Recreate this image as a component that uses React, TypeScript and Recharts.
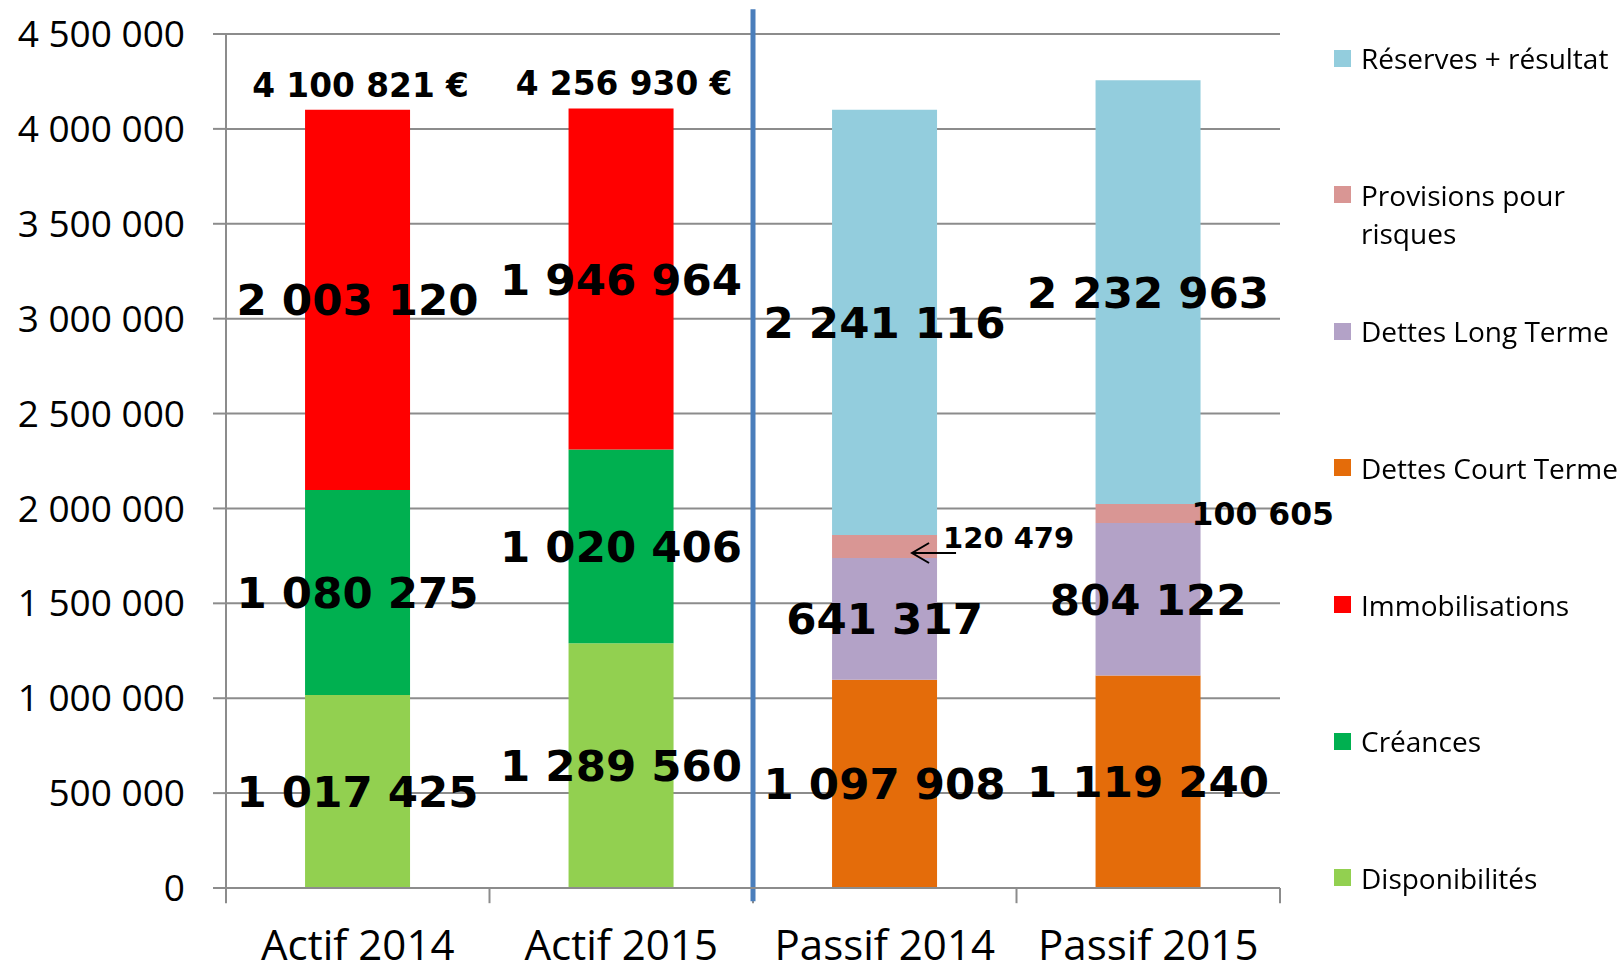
import React from 'react';
import { BarChart, Bar, XAxis, YAxis, CartesianGrid, ReferenceLine, LabelList, Legend } from 'recharts';

const categories = ['Actif 2014', 'Actif 2015', 'Passif 2014', 'Passif 2015'];
const disponibilites = [1017425, 1289560, 0, 0];
const creances = [1080275, 1020406, 0, 0];
const immobilisations = [2003120, 1798000, 0, 0];
const dettesCourtTerme = [0, 0, 1097908, 1119240];
const dettesLongTerme = [0, 0, 641317, 804122];
const provisions = [0, 0, 120479, 100605];
const reserves = [0, 0, 2241116, 2232963];

const immobilisationsLabels = ['2 003 120', '1 946 964', '', ''];
const totalLabels = ['4 100 821 €', '4 256 930 €', '', ''];
const yTicks = [0, 500000, 1000000, 1500000, 2000000, 2500000, 3000000, 3500000, 4000000, 4500000];

const fmt = (n: number) => String(n).replace(/\B(?=(\d{3})+(?!\d))/g, ' ');
const toLabels = (vals: number[]) => vals.map((v) => (v ? fmt(v) : ''));

const series = [
  { key: 'disponibilites', name: 'Disponibilités', color: '#92D050', values: disponibilites, labels: toLabels(disponibilites) },
  { key: 'creances', name: 'Créances', color: '#00B050', values: creances, labels: toLabels(creances) },
  { key: 'immobilisations', name: 'Immobilisations', color: '#FF0000', values: immobilisations, labels: immobilisationsLabels },
  { key: 'dettesCourtTerme', name: 'Dettes Court Terme', color: '#E46C0A', values: dettesCourtTerme, labels: toLabels(dettesCourtTerme) },
  { key: 'dettesLongTerme', name: 'Dettes Long Terme', color: '#B3A2C7', values: dettesLongTerme, labels: toLabels(dettesLongTerme) },
  { key: 'provisions', name: 'Provisions pour risques', color: '#D99694', values: provisions, labels: toLabels(provisions) },
  { key: 'reserves', name: 'Réserves + résultat', color: '#93CDDD', values: reserves, labels: toLabels(reserves) },
];

const data = categories.map((c, i) => {
  const row: Record<string, any> = { name: c };
  series.forEach((s) => {
    row[s.key] = s.values[i];
  });
  return row;
});

const GRAY = '#8C8C8C';
const bold = { fontFamily: '"DejaVu Sans", Verdana, sans-serif', fontWeight: 700, fill: '#000' } as const;

// find which category a label belongs to, from its value
const findIndex = (values: number[], value: any) => {
  const v = Array.isArray(value) ? Number(value[1]) - Number(value[0]) : Number(value);
  if (!v) return -1;
  let best = -1;
  let bestDiff = Infinity;
  values.forEach((x, i) => {
    if (!x) return;
    const d = Math.abs(x - v);
    if (d < bestDiff) {
      bestDiff = d;
      best = i;
    }
  });
  return bestDiff < 1 ? best : -1;
};

const bigLabel = (values: number[], texts: string[]) => (props: any) => {
  const { x, y, width, height, value } = props;
  const i = findIndex(values, value);
  const t = i >= 0 ? texts[i] : '';
  if (!t) return null;
  const cx = Number(x) + Number(width) / 2;
  const cy = Number(y) + Number(height) / 2;
  return (
    <text x={cx} y={cy} dy="0.36em" textAnchor="middle" style={{ ...bold, fontSize: 43.5 }}>
      {t}
    </text>
  );
};

const totalLabel = (props: any) => {
  const { x, y, width, height, value } = props;
  const i = findIndex(immobilisations, value);
  const t = i >= 0 ? totalLabels[i] : '';
  if (!t) return null;
  const cx = Number(x) + Number(width) / 2 + 3;
  const top = Math.min(Number(y), Number(y) + Number(height));
  return (
    <text x={cx} y={top - 25} dy="0.36em" textAnchor="middle" style={{ ...bold, fontSize: 32.8 }}>
      {t}
    </text>
  );
};

const provLabels = toLabels(provisions);
const provLabel = (props: any) => {
  const { x, y, width, height, value } = props;
  const i = findIndex(provisions, value);
  const t = i >= 0 ? provLabels[i] : '';
  if (!t) return null;
  const right = Number(x) + Number(width);
  const cy = Number(y) + Number(height) / 2;
  if (i === 2) {
    const ay = cy + 6.5;
    const tip = right - 25;
    return (
      <g>
        <text x={right + 6} y={cy - 8.5} dy="0.36em" textAnchor="start" style={{ ...bold, fontSize: 29 }}>
          {t}
        </text>
        <path
          d={`M${tip},${ay} L${right + 19},${ay} M${tip + 17},${ay - 10} L${tip},${ay} L${tip + 17},${ay + 10}`}
          stroke="#000"
          strokeWidth={2}
          fill="none"
        />
      </g>
    );
  }
  return (
    <text x={right - 9} y={cy} dy="0.36em" textAnchor="start" style={{ ...bold, fontSize: 31.5 }}>
      {t}
    </text>
  );
};

const legendOrder = [...series].reverse();

const renderLegend = () => (
  <div style={{ fontFamily: '"Open Sans", sans-serif', fontSize: 28, lineHeight: '38px', color: '#000' }}>
    {legendOrder.map((s) => (
      <div key={s.key} style={{ height: 136.67, display: 'flex', alignItems: 'flex-start' }}>
        <div style={{ width: 17, height: 17, marginTop: 10.5, background: s.color, flex: '0 0 auto' }} />
        <div style={{ marginLeft: 10, width: 262 }}>{s.name}</div>
      </div>
    ))}
  </div>
);

export default function App() {
  return (
    <div style={{ position: 'fixed', left: 0, top: 0, width: 1621, height: 971, background: '#fff' }}>
      <BarChart
        width={1621}
        height={971}
        data={data}
        margin={{ top: 34, right: 341, bottom: 0, left: 0 }}
        barCategoryGap="30%"
      >
        <CartesianGrid vertical={false} stroke={GRAY} strokeWidth={2} />
        <XAxis
          dataKey="name"
          height={83}
          axisLine={{ stroke: GRAY, strokeWidth: 2 }}
          tickLine={false}
          tickSize={0}
          tickMargin={42}
          tick={{ fontFamily: '"Open Sans", sans-serif', fontSize: 42, fill: '#000' }}
        />
        <YAxis
          width={226}
          domain={[0, 4500000]}
          ticks={yTicks}
          interval={0}
          tickFormatter={(v: number) => fmt(v)}
          axisLine={{ stroke: GRAY, strokeWidth: 2 }}
          tickLine={{ stroke: GRAY, strokeWidth: 2 }}
          tickSize={13}
          tickMargin={28}
          tick={{ fontFamily: '"Open Sans", sans-serif', fontSize: 37, fill: '#000' }}
        />
        {series.map((s) => (
          <Bar key={s.key} dataKey={s.key} name={s.name} stackId="s" fill={s.color} isAnimationActive={false}>
            {s.key === 'provisions' ? (
              <LabelList dataKey={s.key} content={provLabel} />
            ) : (
              <LabelList dataKey={s.key} content={bigLabel(s.values, s.labels)} />
            )}
            {s.key === 'immobilisations' ? <LabelList dataKey={s.key} content={totalLabel} /> : null}
          </Bar>
        ))}
        {categories.map((c) => (
          <ReferenceLine
            key={c}
            position="start"
            segment={[{ x: c, y: 0 }, { x: c, y: -80000 }]}
            stroke={GRAY}
            strokeWidth={2}
            ifOverflow="visible"
          />
        ))}
        <ReferenceLine
          position="end"
          segment={[{ x: categories[3], y: 0 }, { x: categories[3], y: -80000 }]}
          stroke={GRAY}
          strokeWidth={2}
          ifOverflow="visible"
        />
        <ReferenceLine
          position="start"
          segment={[{ x: categories[2], y: -70000 }, { x: categories[2], y: 4630000 }]}
          stroke="#4A7EBB"
          strokeWidth={5}
          ifOverflow="visible"
        />
        <Legend
          layout="horizontal"
          align="center"
          verticalAlign="middle"
          content={renderLegend}
          wrapperStyle={{ left: 1334, top: 39, width: 287, height: 920 }}
        />
      </BarChart>
    </div>
  );
}
